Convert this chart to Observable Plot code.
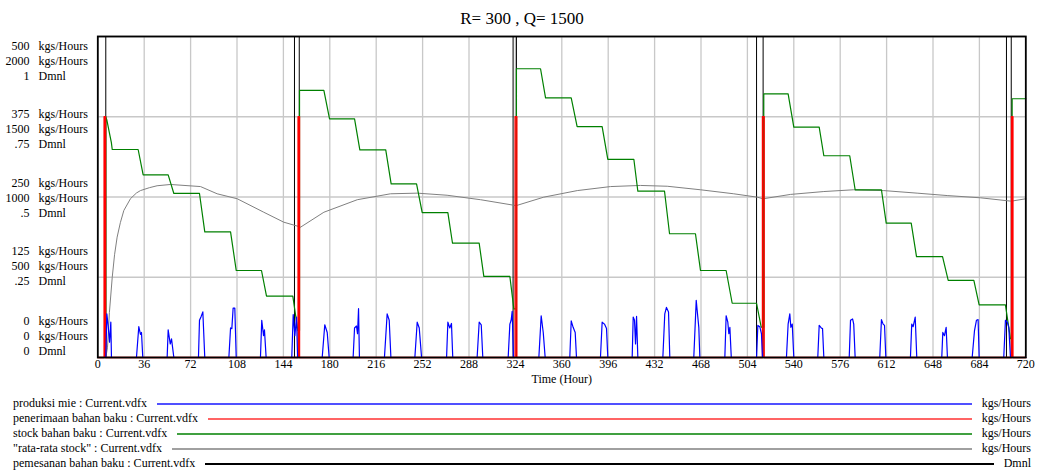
<!DOCTYPE html>
<html><head><meta charset="utf-8">
<script src="https://cdn.jsdelivr.net/npm/d3@7"></script>
<script src="https://cdn.jsdelivr.net/npm/@observablehq/plot@0.6"></script>
<style>
body{margin:0;background:#fff;font-family:"Liberation Serif","Times New Roman",serif;color:#000;}
#wrap{position:relative;width:1038px;height:471px;overflow:hidden;background:#fff;}
#title{position:absolute;left:3px;top:10px;width:1038px;text-align:center;font-size:17px;line-height:17px;}
#chart{position:absolute;left:0;top:0;}
#legend{position:absolute;left:13px;top:396px;width:1018px;font-size:12px;}
.row{display:flex;align-items:center;height:15px;line-height:15px;white-space:nowrap;}
.row .ln{flex:1;margin:0 10px 0 10px;height:0;border-top:2px solid;}
</style></head>
<body>
<div id="wrap">
  <div id="chart"></div>
  <div id="title"></div>
  <div id="legend"></div>
</div>
<script>
const titleText = "R= 300 , Q= 1500";
const xTicks = d3.range(0, 721, 36);
const yTicks = [0, 0.25, 0.5, 0.75, 1];
const axisKgsA = ["0", "125", "250", "375", "500"];
const axisKgsB = ["0", "500", "1000", "1500", "2000"];
const axisDmnl = ["0", ".25", ".5", ".75", "1"];
const seriesNames = ["produksi mie : Current.vdfx", "penerimaan bahan baku : Current.vdfx", "stock bahan baku : Current.vdfx", "\"rata-rata stock\" : Current.vdfx", "pemesanan bahan baku : Current.vdfx"];
const seriesUnits = ["kgs/Hours", "kgs/Hours", "kgs/Hours", "kgs/Hours", "Dmnl"];
const seriesColors = ["#0000ff", "#ff0000", "#008000", "#808080", "#000000"];
const legendColors = ["#5050ff", "#ff6464", "#40a040", "#a0a0a0", "#000000"];
const seriesMax = [500, 500, 2000, 2000, 1];

// produksi mie (kgs/Hours), [time, value]
const produksiMie = [
[0,0],[6.2,0],[7,68],[8,50],[9.1,24],[10.1,55],[10.6,0],
[30,0],[31.8,48],[33.1,36],[33.9,39],[34.9,0],
[53.8,0],[54.6,43],[56.2,21],[57.2,29],[59,0],
[78.1,0],[78.9,58],[80.2,64],[81.5,71],[83,0],
[101.7,0],[103,46],[104,45],[105,77],[106.3,77],[107.4,0],
[126.2,0],[127.2,58],[128.6,34],[129.3,43],[130.6,0],
[150.5,0],[151.6,67],[152.9,34],[154.2,63],[155,0],
[174.1,0],[176.1,51],[178,39],[179.5,0],
[198.1,0],[199.2,46],[200.7,49],[201.5,37],[202.3,76],[203,0],
[222.4,0],[224.5,68],[226.1,58],[227.4,0],
[246,0],[247.8,55],[249.4,46],[251.2,0],
[270.6,0],[271.6,55],[273.1,46],[274.4,53],[275.4,0],
[294.3,0],[295.9,55],[297.5,51],[298.7,0],
[318.4,0],[319.7,52],[320.7,58],[321.5,72],[322.5,0],
[342.2,0],[344,65],[345.6,39],[347.1,0],
[366.2,0],[367.3,57],[368.8,47],[370.4,39],[371.4,0],
[390,0],[391.3,55],[393.1,52],[394.7,45],[395.7,0],
[414.6,0],[415.4,63],[416.4,58],[417.2,21],[418,64],[419,0],
[438.4,0],[439.9,68],[441.2,78],[442.8,71],[443.8,0],
[462.4,0],[464.3,89],[465,74],[466.3,47],[467.1,0],
[486.5,0],[487.5,65],[488.8,55],[489.6,37],[490.4,47],[491.5,0],
[511.1,0],[512.1,50],[513.6,48],[514.9,37],[515.7,0],
[534.3,0],[535.6,52],[536.9,68],[537.7,47],[538.8,52],[540,0],
[558.6,0],[559.7,50],[561.3,46],[562.3,45],[563.3,0],
[583,0],[584,58],[585.6,60],[586.5,52],[587.6,0],
[606.7,0],[608,59],[609.3,52],[610.4,50],[611.4,0],
[630.5,0],[631.5,52],[632.6,48],[634.2,63],[635.4,0],
[654.8,0],[655.6,39],[656.9,34],[658.2,47],[659.2,0],
[678.4,0],[680.2,42],[681.7,58],[683,59],[683.8,0],
[702.9,0],[704.2,58],[705.6,55],[706.8,47],[708.1,0],
[720,0]];

// penerimaan bahan baku (kgs/Hours)
const penerimaan = [
[0,0],[4.9,0],[4.9,375],[6.0,375],[6.0,0],
[155.4,0],[155.4,375],[156.5,375],[156.5,0],
[323.8,0],[323.8,375],[325.1,375],[325.1,0],
[515.7,0],[515.7,375],[517.0,375],[517.0,0],
[708.9,0],[708.9,375],[710.0,375],[710.0,0],
[720,0]];

// stock bahan baku (kgs)
const stock = [
[0,0],[6.2,0],[6.2,1500],[7,1480],[9,1400],[10.5,1340],[11.2,1296],
[31.3,1296],[35.2,1138],
[54.6,1138],[59,1022],
[78.9,1022],[83,783],
[103,783],[107.4,542],
[127,542],[130.9,382],
[151.3,382],[155.2,168],[156.5,168],[156.5,1664],
[175.4,1664],[179.8,1487],
[199.2,1487],[203.3,1294],
[223.4,1294],[227.6,1082],
[247.3,1082],[251.7,903],
[271.6,903],[275.2,712],
[295.9,712],[299.5,505],
[319.7,505],[322.8,303],[324.8,303],[324.8,1799],
[343.5,1799],[347.4,1618],
[367.3,1618],[371.9,1439],
[391.3,1439],[395.7,1235],
[415.9,1235],[419,1036],
[439.7,1036],[443.6,771],
[463.7,771],[467.6,542],
[487.5,542],[492.2,338],
[511.1,338],[514.7,189],[516.7,189],[516.7,1643],
[535.6,1643],[540,1435],
[559.7,1435],[563.3,1257],
[583.4,1257],[587.6,1045],
[608,1045],[611.7,837],
[631.1,837],[635.2,629],
[655.4,629],[659.8,480],
[679.7,480],[683.8,328],
[704.2,328],[708.1,117],[709.4,117],[709.4,1612],
[720,1612]];

// "rata-rata stock" (kgs)
const rataRata = [
[6.2,0],[7.5,60],[9,280],[11.2,500],[13,640],[15,750],[17.5,840],[20.2,916],[25.4,990],[30,1025],[33.1,1040],
[40,1058],[46,1070],[56.4,1078],[79.7,1065],[92.6,1020],[108.2,989],[128.8,905],[144.3,843],[156,816],[157.3,812],
[175.4,905],[201.3,983],[227.1,1020],[247.8,1024],[271,1011],[297,983],[324,947],[324.9,947],
[346,999],[372,1040],[397.8,1065],[421,1072],[441.8,1067],[467.6,1045],[493.4,1020],[511.6,999],[516.2,989],
[537.4,1016],[563.3,1034],[586.5,1045],[609.8,1040],[635.7,1024],[659,1009],[684.8,995],[708.7,974],[720,989]];

// pemesanan bahan baku (Dmnl)
const pemesanan = [
[0,1],[6.2,1],[6.2,0],
[152.6,0],[152.6,1],[156.3,1],[156.3,0],
[322.2,0],[322.2,1],[324.8,1],[324.8,0],
[511.1,0],[511.1,1],[516.2,1],[516.2,0],
[705,0],[705,1],[708.7,1],[708.7,0],
[720,0]];

const seriesData = [produksiMie, penerimaan, stock, rataRata, pemesanan];
const seriesWidth = [1.2, 1.4, 1.2, 1, 1];

const font = '"Liberation Serif","Times New Roman",serif';
const labelShift = [-22, -11.7, 0, 11.6, 24];

const lineMarks = [];
for (let k = seriesData.length - 1; k >= 0; k--) {
  const m = seriesMax[k];
  lineMarks.push(Plot.line(seriesData[k], {x: d => d[0], y: d => d[1] / m, stroke: seriesColors[k], strokeWidth: seriesWidth[k], curve: "linear"}));
}

const labelMarks = [];
yTicks.forEach((v, i) => {
  labelMarks.push(Plot.text([v], {y: d => d, frameAnchor: "left", dx: -68.3, dy: labelShift[i], textAnchor: "end", lineHeight: 1.25,
    text: () => [axisKgsA[i], axisKgsB[i], axisDmnl[i]].join("\n")}));
  labelMarks.push(Plot.text([v], {y: d => d, frameAnchor: "left", dx: -59.3, dy: labelShift[i], textAnchor: "start", lineHeight: 1.25,
    text: () => ["kgs/Hours", "kgs/Hours", "Dmnl"].join("\n")}));
});

const chart = Plot.plot({
  width: 1038, height: 395,
  marginTop: 36, marginBottom: 38, marginLeft: 97.3, marginRight: 12.7,
  style: {fontFamily: font, fontSize: "12px", background: "transparent", color: "#000"},
  x: {domain: [0, 720], axis: null},
  y: {domain: [0, 1], axis: null},
  marks: [
    Plot.ruleX(xTicks, {x: d => d, stroke: "#c8c8c8", strokeWidth: 1.3}),
    Plot.ruleY(yTicks, {y: d => d, stroke: "#c8c8c8", strokeWidth: 1.3}),
    ...lineMarks,
    Plot.frame({stroke: "#000", strokeWidth: 1.8}),
    Plot.text(xTicks, {x: d => d, frameAnchor: "bottom", dy: 10, text: d => String(d), fill: "#000"}),
    Plot.text(["Time (Hour)"], {frameAnchor: "bottom", dy: 25, text: d => d, fill: "#000"}),
    ...labelMarks
  ]
});
document.getElementById("chart").appendChild(chart);
document.getElementById("title").textContent = titleText;

const legend = document.getElementById("legend");
seriesNames.forEach((name, k) => {
  const row = document.createElement("div");
  row.className = "row";
  const a = document.createElement("span"); a.textContent = name;
  const ln = document.createElement("span"); ln.className = "ln"; ln.style.borderTopColor = legendColors[k];
  const b = document.createElement("span"); b.textContent = seriesUnits[k];
  row.append(a, ln, b);
  legend.appendChild(row);
});
</script>
</body></html>
